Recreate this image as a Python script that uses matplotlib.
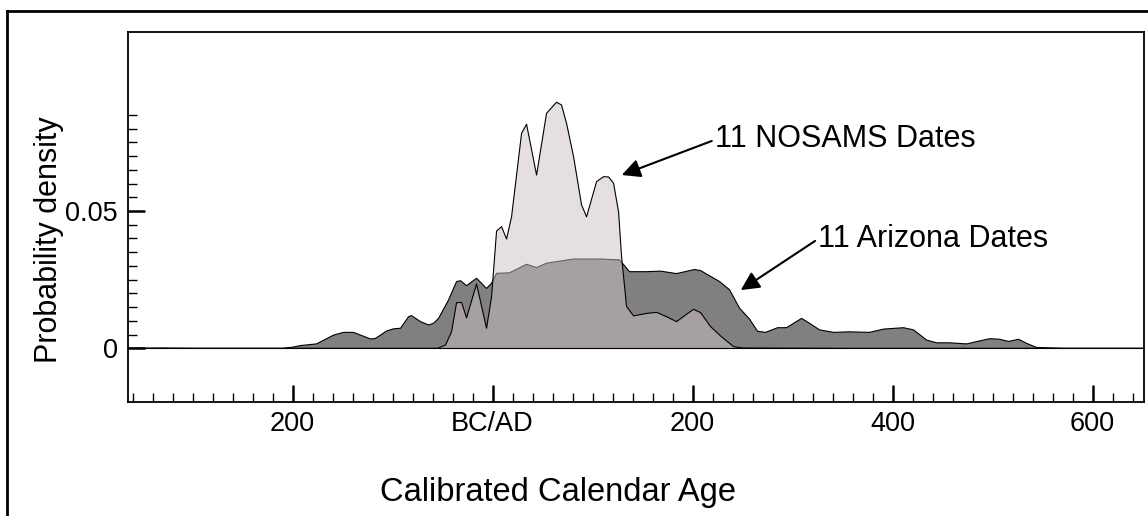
import matplotlib
matplotlib.use("Agg")
import matplotlib.pyplot as plt
from matplotlib.lines import Line2D
from matplotlib.ticker import FixedLocator

plt.rcParams['font.family'] = ['Liberation Sans', 'DejaVu Sans']

# ---- data (years: negative = BC, positive = AD) ----
arizona_years = [-365, -330, -300, -210, -200, -192, -176, -159, -149, -139, -132, -122, -117,
                 -106, -99, -92, -84, -81, -72, -64, -59, -54, -44, -36, -32, -26, -16, -6, -1,
                 4, 17, 34, 44, 54, 81, 108, 127, 137, 154, 168, 184, 202, 208, 227, 237, 247,
                 257, 265, 273, 285, 294, 309, 317, 327, 341, 357, 377, 391, 411, 421, 434, 444,
                 457, 474, 497, 507, 516, 526, 534, 544, 571, 651]
arizona_density = [0, 0.0001, 0, 0, 0.0004, 0.001, 0.0016, 0.0048, 0.0058, 0.0058, 0.0048, 0.0034,
                   0.0036, 0.0063, 0.0071, 0.0073, 0.0115, 0.0119, 0.0097, 0.0085, 0.0091, 0.0109,
                   0.0176, 0.0243, 0.0246, 0.0228, 0.0255, 0.0218, 0.0237, 0.0273, 0.0275, 0.0306,
                   0.0294, 0.031, 0.0325, 0.0325, 0.0322, 0.0279, 0.0279, 0.0281, 0.0272, 0.0287,
                   0.0283, 0.0243, 0.0213, 0.0146, 0.0106, 0.0062, 0.0058, 0.0075, 0.0075, 0.0109,
                   0.0091, 0.0067, 0.0058, 0.006, 0.0058, 0.007, 0.0075, 0.0067, 0.003, 0.002,
                   0.002, 0.0016, 0.0035, 0.0033, 0.0025, 0.0033, 0.0018, 0.0003, 0, 0]

nosams_years = [-365, -55, -47, -41, -36, -31, -26, -16, -6, -1, 4, 9, 14, 19, 29, 34, 44, 54, 64,
                69, 74, 81, 89, 94, 104, 111, 116, 121, 126, 129, 134, 141, 154, 164, 174, 184, 194,
                201, 208, 218, 228, 241, 250, 354, 651]
nosams_density = [0, 0, 0.0012, 0.006, 0.0166, 0.0167, 0.0111, 0.0234, 0.0073, 0.0188, 0.0427,
                  0.0443, 0.0398, 0.0479, 0.0783, 0.0816, 0.0631, 0.0856, 0.0896, 0.0886, 0.0819,
                  0.0698, 0.0522, 0.0479, 0.0607, 0.0625, 0.0624, 0.0601, 0.0497, 0.0334, 0.0152,
                  0.0118, 0.0127, 0.0131, 0.0115, 0.0097, 0.0124, 0.0142, 0.013, 0.0079, 0.0045,
                  0.0006, 0.0001, 0, 0]

x_major_ticks = [-200, 0, 200, 400, 600]
x_tick_labels = ['200', 'BC/AD', '200', '400', '600']
y_major_ticks = [0, 0.05]
y_tick_labels = ['0', '0.05']

label_nosams = '11 NOSAMS Dates'
label_arizona = '11 Arizona Dates'

# ---- figure ----
fig = plt.figure(figsize=(11.48, 5.16), dpi=100)
ax = fig.add_axes([0.1111, 0.2215, 0.8855, 0.7171])

ax.fill_between(arizona_years, arizona_density, 0, facecolor='#808080',
                edgecolor='none', zorder=2)
ax.plot(arizona_years, arizona_density, color='black', lw=0.8, zorder=3)
ax.fill_between(nosams_years, nosams_density, 0, facecolor=(204/255, 192/255, 192/255),
                alpha=0.5, edgecolor='none', zorder=4)
ax.plot(nosams_years, nosams_density, color='black', lw=0.8, zorder=5)
ax.axhline(0, color='black', lw=0.8, zorder=6)

ax.set_xlim(-365, 651.5)
ax.set_ylim(-0.01945, 0.1153)

ax.xaxis.set_major_locator(FixedLocator(x_major_ticks))
ax.set_xticklabels(x_tick_labels)
ax.xaxis.set_minor_locator(FixedLocator([v for v in range(-360, 651, 20) if v % 200 != 0]))
ax.yaxis.set_major_locator(FixedLocator(y_major_ticks))
ax.set_yticklabels(y_tick_labels)
ax.yaxis.set_minor_locator(FixedLocator([i * 0.005 for i in range(0, 18) if i % 10 != 0]))

ax.tick_params(which='both', direction='in', top=False, right=False, labelsize=19.5)
ax.tick_params(which='major', length=12.5, width=1.8)
ax.tick_params(which='minor', length=6.3, width=1.0)
ax.tick_params(axis='x', which='major', pad=7)
ax.tick_params(axis='y', which='major', pad=7)

for s in ax.spines.values():
    s.set_linewidth(1.3)

ax.set_xlabel('Calibrated Calendar Age', fontsize=23.5, va='baseline')
ax.xaxis.set_label_coords(0.4235, -0.2689)
ax.set_ylabel('Probability density', fontsize=22, va='center')
ax.yaxis.set_label_coords(-0.0772, 0.437)

ax.text(222.5, 0.0733, label_nosams, fontsize=22, va='baseline', ha='left')
ax.annotate('', xy=(129.2, 0.0631), xytext=(219.2, 0.0755),
            arrowprops=dict(arrowstyle='-|>', mutation_scale=28, lw=1.5, color='black',
                            shrinkA=0, shrinkB=0))
ax.text(325.5, 0.0369, label_arizona, fontsize=22, va='baseline', ha='left')
ax.annotate('', xy=(248.2, 0.0212), xytext=(322.5, 0.0391),
            arrowprops=dict(arrowstyle='-|>', mutation_scale=28, lw=1.5, color='black',
                            shrinkA=0, shrinkB=0))

# outer frame (left and top edges)
fig.add_artist(Line2D([0.00636, 0.00636], [0.0, 0.9793], transform=fig.transFigure,
                      color='black', lw=2.0))
fig.add_artist(Line2D([0.00636, 1.0], [0.9793, 0.9793], transform=fig.transFigure,
                      color='black', lw=2.0))

fig.savefig('out.png', dpi=100)
